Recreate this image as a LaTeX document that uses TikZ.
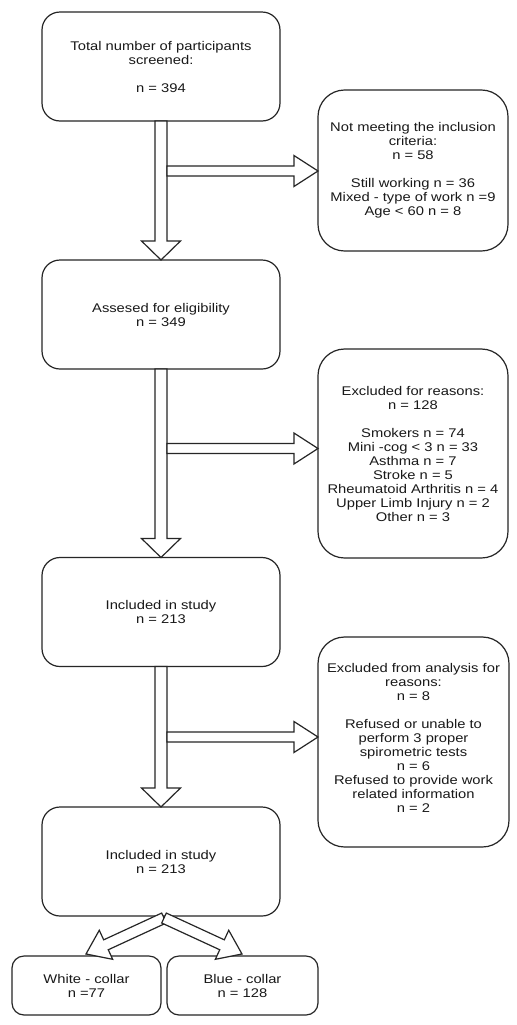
\documentclass[tikz,border=0pt]{standalone}
\usepackage{fontspec}
\setmainfont[FakeStretch=1.17]{Liberation Sans}
\usetikzlibrary{calc}
\definecolor{linec}{gray}{0.15}
\definecolor{textc}{gray}{0.1}
\tikzset{
  box/.style={draw=linec, line width=0.9pt, rounded corners=13.5pt,
    minimum width=178.5pt, minimum height=81.75pt, inner sep=0pt, outer sep=0pt,
    align=center, font=\fontsize{9.45}{10.5}\selectfont, text=textc},
  sidebox/.style={box, rounded corners=20pt, minimum width=142.5pt},
  smallbox/.style={box, rounded corners=9pt, minimum height=44.25pt},
  blockarrow/.style={draw=linec, fill=white, line width=0.9pt, line join=miter},
}
\newcommand{\blockarr}[5]{%
  \coordinate (baH) at ($(#2)!#5!(#1)$);
  \draw[blockarrow] ($(#1)!#3!90:(#2)$) -- ($(baH)!#3!90:(#2)$) -- ($(baH)!#4!90:(#2)$)
    -- (#2) -- ($(baH)!#4!-90:(#2)$) -- ($(baH)!#3!-90:(#2)$) -- ($(#1)!#3!-90:(#2)$) -- cycle;
}
\begin{document}
\begin{tikzpicture}[x=0.75pt, y=-0.75pt]
\path[use as bounding box, fill=white] (0,0) rectangle (517,1025);

\node[box] (b1) at (161,66.5) {Total number of participants\\screened:\\[10.5pt]n = 394};
\node[box] (b2) at (161,314.5) {Assesed for eligibility\\n = 349};
\node[box] (b3) at (161,612) {Included in study\\n = 213};
\node[box] (b4) at (161,861.5) {Included in study\\n = 213};

\node[sidebox, minimum height=120.75pt] (r1) at (413,170.5) {Not meeting the inclusion\\criteria:\\n = 58\\[10.5pt]Still working n = 36\\Mixed - type of work n =9\\Age < 60 n = 8};
\node[sidebox, minimum height=156.75pt] (r2) at (413,453.5) {Excluded for reasons:\\n = 128\\[10.5pt]Smokers n = 74\\Mini -cog < 3 n = 33\\Asthma n = 7\\Stroke n = 5\\Rheumatoid Arthritis n = 4\\Upper Limb Injury n = 2\\Other n = 3};
\node[sidebox, minimum height=157.5pt, minimum width=143.25pt] (r3) at (413.5,742) {Excluded from analysis for\\reasons:\\n = 8\\[10.5pt]Refused or unable to\\perform 3 proper\\spirometric tests\\n = 6\\Refused to provide work\\related information\\n = 2\\[-4pt]\mbox{}};

\node[smallbox, minimum width=111.75pt] (wc) at (86.5,985.5) {White - collar\\n =77};
\node[smallbox, minimum width=113.25pt] (bc) at (242.5,985.5) {Blue - collar\\n = 128};

% vertical arrows
\blockarr{b1.south}{b2.north}{4.5pt}{14.6pt}{14.25pt}
\blockarr{b2.south}{b3.north}{4.5pt}{14.6pt}{14.25pt}
\blockarr{b3.south}{b4.north}{4.5pt}{14.6pt}{14.25pt}

% side arrows
\coordinate (j1) at (167,171);
\coordinate (t1) at (r1.west |- j1);
\blockarr{j1}{t1}{3.75pt}{11.6pt}{18pt}
\coordinate (j2) at (167,448.5);
\coordinate (t2) at (r2.west |- j2);
\blockarr{j2}{t2}{3.75pt}{11.6pt}{18pt}
\coordinate (j3) at (167,737);
\coordinate (t3) at (r3.west |- j3);
\blockarr{j3}{t3}{3.75pt}{11.6pt}{18pt}

% split arrows
\coordinate (sp) at ($(b4.south)+(3,2)$);
\coordinate (tw) at ($(wc.north)+(-0.5,-2)$);
\coordinate (tb) at ($(bc.north)+(-0.5,-2)$);
\blockarr{sp}{tw}{4.1pt}{12pt}{16.5pt}
\blockarr{sp}{tb}{4.1pt}{12pt}{16.5pt}
\end{tikzpicture}
\end{document}
